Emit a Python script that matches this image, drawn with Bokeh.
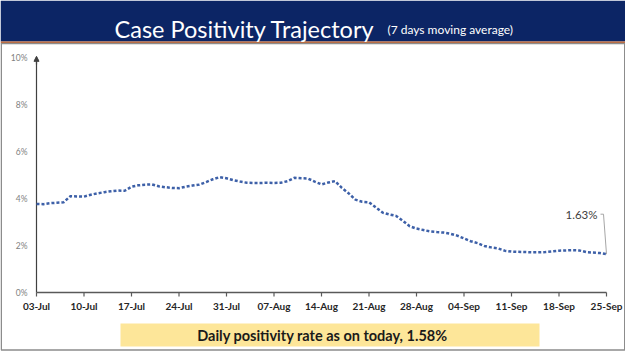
from bokeh.plotting import figure
from bokeh.models import Range1d, Arrow, NormalHead, ColumnDataSource
from bokeh.core.properties import value
from bokeh.embed import file_html
from bokeh.resources import INLINE

# ---- data (7-day moving average of case positivity, %) ----
day_index = list(range(85))  # 03-Jul .. 25-Sep
positivity = [
    3.77, 3.76, 3.80, 3.82, 3.84, 4.10, 4.09, 4.08, 4.16, 4.22,
    4.27, 4.31, 4.34, 4.33, 4.50, 4.56, 4.59, 4.60, 4.52, 4.48,
    4.45, 4.44, 4.50, 4.55, 4.59, 4.70, 4.82, 4.91, 4.86, 4.78,
    4.72, 4.67, 4.66, 4.66, 4.67, 4.66, 4.67, 4.74, 4.88, 4.86,
    4.85, 4.72, 4.60, 4.68, 4.74, 4.45, 4.22, 3.95, 3.86, 3.84,
    3.62, 3.40, 3.32, 3.26, 3.05, 2.82, 2.72, 2.66, 2.60, 2.57,
    2.55, 2.50, 2.42, 2.30, 2.18, 2.10, 1.98, 1.92, 1.88, 1.78,
    1.74, 1.73, 1.72, 1.71, 1.71, 1.72, 1.75, 1.78, 1.79, 1.80,
    1.79, 1.72, 1.70, 1.68, 1.63,
]
x_tick_pos = [0, 7, 14, 21, 28, 35, 42, 49, 56, 63, 70, 77, 84]
x_tick_labels = ["03-Jul", "10-Jul", "17-Jul", "24-Jul", "31-Jul", "07-Aug",
                 "14-Aug", "21-Aug", "28-Aug", "04-Sep", "11-Sep", "18-Sep", "25-Sep"]
y_tick_pos = [0, 2, 4, 6, 8, 10]
y_tick_labels = ["0%", "2%", "4%", "6%", "8%", "10%"]
title_text = "Case Positivity Trajectory"
subtitle_text = "(7 days moving average)"
last_label = "1.63%"
footer_text = "Daily positivity rate as on today, 1.58%"

FONT = value("Lato")

# ---- layout (canvas pixels) ----
W, H = 625, 351
PX0, PX1 = 36, 606      # pixel x of first / last day
PY0, PY10 = 292, 57     # pixel y of 0% / 10%
XMAX, YMAX = 84, 10
kx = (PX1 - PX0) / XMAX
ky = (PY0 - PY10) / YMAX

p = figure(width=W, height=H, output_backend="svg", toolbar_location=None,
           x_range=Range1d(0, W), y_range=Range1d(H, 0),
           min_border=0, background_fill_color="white", border_fill_color="white",
           outline_line_color=None, x_axis_type=None, y_axis_type=None)
p.xgrid.visible = False
p.ygrid.visible = False
p.extra_x_ranges = {"dx": Range1d(-PX0 / kx, XMAX + (W - PX1) / kx)}
p.extra_y_ranges = {"dy": Range1d(-(H - PY0) / ky, YMAX + PY10 / ky)}
D = dict(x_range_name="dx", y_range_name="dy")

# ---- decorations in pixel space ----
p.quad(left=0, right=W, top=0, bottom=41, fill_color="#0c2565", line_color=None)
p.quad(left=0, right=W, top=41, bottom=43, fill_color="#c8652e", line_color=None)
p.quad(left=0.75, right=W - 0.75, top=43, bottom=H - 1.5, fill_color=None,
       line_color="#8c8c8c", line_width=1.5)
p.quad(left=120, right=539, top=323, bottom=346, fill_color="#fde699", line_color=None)

p.text(x=[114], y=[28.5], text=[title_text], text_align="left",
       text_baseline="alphabetic", text_font=FONT, text_font_size="23.5px",
       text_color="white")
p.text(x=[387], y=[28.8], text=[subtitle_text], text_align="left",
       text_baseline="alphabetic", text_font=FONT, text_font_size="12px",
       text_color="white")
p.text(x=[322], y=[334.5], text=[footer_text], text_align="center",
       text_baseline="middle", text_font=FONT, text_font_size="14.5px",
       text_font_style="bold", text_color="#1a1a1a")

# ---- axes (drawn in data space) ----
p.segment(x0=[0], y0=[0], x1=[0], y1=[YMAX], line_color="#404040", line_width=1.2, **D)
p.add_layout(Arrow(end=NormalHead(size=5, fill_color="#404040", line_color="#404040"),
                   x_start=0, y_start=9.7, x_end=0, y_end=10.05,
                   line_color="#404040", line_width=1.2, **D))
p.segment(x0=[0], y0=[0], x1=[XMAX], y1=[0], line_color="#595959", line_width=1.5, **D)
p.segment(x0=x_tick_pos, y0=[0] * len(x_tick_pos), x1=x_tick_pos,
          y1=[-4 / ky] * len(x_tick_pos), line_color="#595959", line_width=1.2, **D)
p.text(x=x_tick_pos, y=[-7 / ky] * len(x_tick_pos), text=x_tick_labels,
       text_align="center", text_baseline="top", text_font=FONT,
       text_font_size="10px", text_font_style="bold", text_color="#262626", **D)
p.text(x=[-9 / kx] * len(y_tick_pos), y=y_tick_pos, text=y_tick_labels,
       text_align="right", text_baseline="middle", text_font=FONT,
       text_font_size="8.5px", text_color="#7f7f7f", **D)

# ---- data line ----
src = ColumnDataSource(dict(x=day_index, y=positivity))
p.line("x", "y", source=src, line_color="#3d60a8", line_width=2.5, line_dash="3 2", **D)

# last value label with leader line
lx, ly = day_index[-1], positivity[-1]
p.line(x=[lx - 6 / kx, lx - 3 / kx, lx], y=[ly + 40 / ky, ly + 40 / ky, ly],
       line_color="#a6a6a6", line_width=1, **D)
p.text(x=[lx - 9 / kx], y=[ly + 40 / ky], text=[last_label], text_align="right",
       text_baseline="middle", text_font=FONT, text_font_size="11.5px",
       text_color="#404040", **D)

open("out.html", "w").write(file_html(p, INLINE))
